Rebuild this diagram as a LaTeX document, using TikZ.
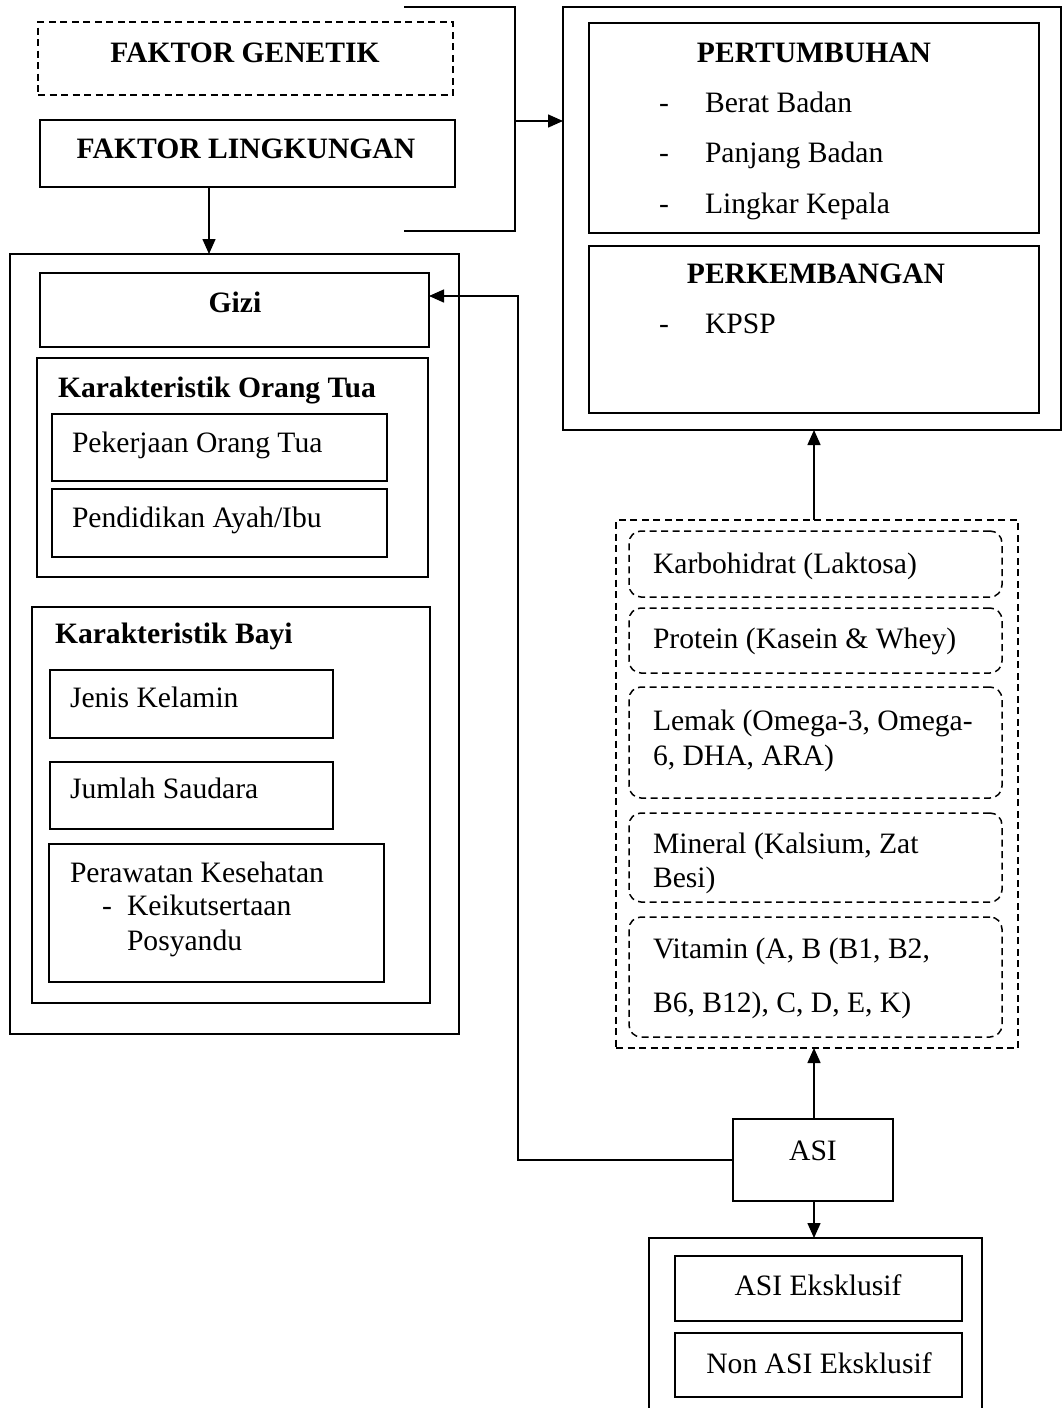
\documentclass[tikz,border=0pt]{standalone}
\usepackage{fontspec}
\setmainfont{Liberation Serif}
\usetikzlibrary{arrows.meta}
\newcommand\myfs{\fontsize{29.6}{34}\selectfont}
\begin{document}
\begin{tikzpicture}[x=1pt,y=-1pt,
  every node/.style={inner sep=0pt, outer sep=0pt},
  box/.style={draw, line width=1.5pt, anchor=north west},
  sz/.style 2 args={minimum width=#1pt, minimum height=#2pt},
  dbox/.style={box, dash pattern=on 7pt off 4.5pt},
  rbox/.style={dbox, rounded corners=12pt},
  t/.style={anchor=base west, font=\myfs},
  tc/.style={anchor=base, font=\myfs},
  tb/.style={anchor=base west, font=\myfs\bfseries},
  tbc/.style={anchor=base, font=\myfs\bfseries},
  conn/.style={line width=1.5pt},
  arr/.style={conn, -{Triangle[length=15pt,width=13pt]}}]
\useasboundingbox (0,0) rectangle (1064,1408);
\clip (0,0) rectangle (1064,1408);

% left column
\node[dbox, sz={415}{73}] (gen) at (38,22) {};
\node[box, sz={415}{67}] (ling) at (40,120) {};
\node[box, sz={449}{780}] (left) at (10,254) {};
\node[box, sz={389}{74}] (gizi) at (40,273) {};
\node[box, sz={391}{219}] (kot) at (37,358) {};
\node[box, sz={335}{67}] (pek) at (52,414) {};
\node[box, sz={335}{68}] (pen) at (52,489) {};
\node[box, sz={398}{396}] (kb) at (32,607) {};
\node[box, sz={283}{68}] (jk) at (50,670) {};
\node[box, sz={283}{67}] (js) at (50,762) {};
\node[box, sz={335}{138}] (pk) at (49,844) {};

\node[tbc] (tgen) at (245,62) {FAKTOR GENETIK};
\node[tbc] (tling) at (246,158) {FAKTOR LINGKUNGAN};
\node[tbc] (tgizi) at (235,312) {Gizi};
\node[tb] (tkot) at (58,397) {Karakteristik Orang Tua};
\node[t] (tpek) at (72,452) {Pekerjaan Orang Tua};
\node[t] (tpen) at (72,527) {Pendidikan Ayah/Ibu};
\node[tb] (tkb) at (55,643) {Karakteristik Bayi};
\node[t] (tjk) at (70,707) {Jenis Kelamin};
\node[t] (tjs) at (70,798) {Jumlah Saudara};
\node[t] (tpk1) at (70,882) {Perawatan Kesehatan};
\node[t] (tpkd) at (102,915) {-};
\node[t] (tpk2) at (127,915) {Keikutsertaan};
\node[t] (tpk3) at (127,950) {Posyandu};

% right top
\node[box, sz={498}{423}] (right) at (563,7) {};
\node[box, sz={450}{210}] (pert) at (589,23) {};
\node[box, sz={450}{167}] (perk) at (589,246) {};
\node[tbc] (tpert) at (814,62) {PERTUMBUHAN};
\node[t] (d1) at (659,112) {-};
\node[t] (bb) at (705,112) {Berat Badan};
\node[t] (d2) at (659,162) {-};
\node[t] (pb) at (705,162) {Panjang Badan};
\node[t] (d3) at (659,213) {-};
\node[t] (lk) at (705,213) {Lingkar Kepala};
\node[tbc] (tperk) at (816,283) {PERKEMBANGAN};
\node[t] (d4) at (659,333) {-};
\node[t] (kpsp) at (705,333) {KPSP};

% nutrients
\node[dbox, sz={402}{528}] (nut) at (616,520) {};
\node[rbox, sz={373}{66}] (n1) at (629,531) {};
\node[rbox, sz={373}{65}] (n2) at (629,608) {};
\node[rbox, sz={373}{111}] (n3) at (629,687) {};
\node[rbox, sz={373}{89}] (n4) at (629,813) {};
\node[rbox, sz={373}{120}] (n5) at (629,917) {};
\node[t] (tn1) at (653,573) {Karbohidrat (Laktosa)};
\node[t] (tn2) at (653,648) {Protein (Kasein \& Whey)};
\node[t] (tn3a) at (653,730) {Lemak (Omega-3, Omega-};
\node[t] (tn3b) at (653,765) {6, DHA, ARA)};
\node[t] (tn4a) at (653,853) {Mineral (Kalsium, Zat};
\node[t] (tn4b) at (653,887) {Besi)};
\node[t] (tn5a) at (653,958) {Vitamin (A, B (B1, B2,};
\node[t] (tn5b) at (653,1012) {B6, B12), C, D, E, K)};

% ASI
\node[box, sz={160}{82}] (asi) at (733,1119) {};
\node[tc] (tasi) at (813,1160) {ASI};
\node[box, sz={333}{200}] (bot) at (649,1238) {};
\node[box, sz={287}{65}] (ae) at (675,1256) {};
\node[box, sz={287}{64}] (nae) at (675,1333) {};
\node[tc] (tae) at (818,1295) {ASI Eksklusif};
\node[tc] (tnae) at (819,1373) {Non ASI Eksklusif};

% connectors
\coordinate (ax) at (209,0);
\draw[arr] (ling.south -| ax) -- (left.north -| ax);
\coordinate (b1) at (404,7);
\coordinate (b2) at (515,7);
\coordinate (b3) at (515,231);
\coordinate (b4) at (404,231);
\coordinate (bm) at (515,121);
\draw[conn] (b1) -- (b2) -- (b3) -- (b4);
\draw[arr] (bm) -- (bm -| right.west);
\coordinate (gz) at (518,296);
\draw[arr] (asi.west) -| (gz) -- (gz -| gizi.east);
\coordinate (ux) at (814,0);
\draw[arr] (nut.north -| ux) -- (right.south -| ux);
\draw[arr] (asi.north -| ux) -- (nut.south -| ux);
\draw[arr] (asi.south -| ux) -- (bot.north -| ux);
\end{tikzpicture}
\end{document}
